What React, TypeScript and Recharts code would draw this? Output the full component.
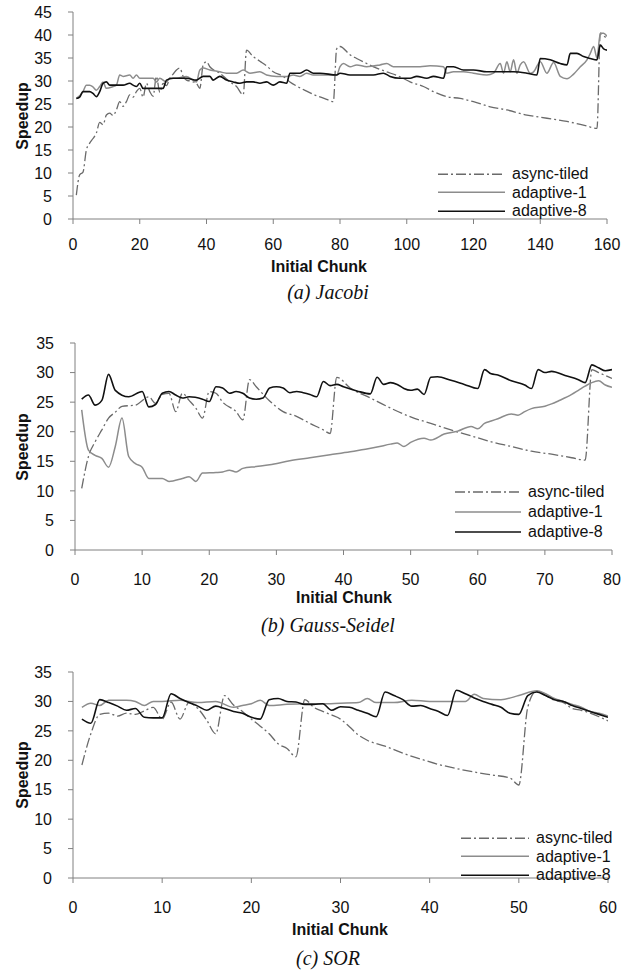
import React from "react";
import { LineChart, Line, XAxis, YAxis, Legend } from "recharts";

const SANS = '"Liberation Sans", Arial, sans-serif';
const SERIF = '"Liberation Serif", "Times New Roman", serif';
const AXIS = "#808080";

const SERIES_NAMES = ["async-tiled", "adaptive-1", "adaptive-8"];

// (a) Jacobi
const jacobiTicksX = [0, 20, 40, 60, 80, 100, 120, 140, 160];
const jacobiTicksY = [0, 5, 10, 15, 20, 25, 30, 35, 40, 45];
const jacobiAsyncX = [
  1, 2, 3, 4, 5, 6, 7, 8, 9, 10, 11, 12, 13, 14, 15, 16, 17, 18, 19, 20, 21, 22, 23, 24, 25, 26, 27,
  28, 29, 30, 31, 32, 33, 34, 35, 36, 37, 38, 39, 40, 41, 44, 47, 49, 51, 52, 54, 56, 58, 60, 63, 65,
  67, 70, 73, 76, 78, 79, 80, 83, 85, 88, 91, 94, 98, 101, 105, 108, 112, 116, 120, 125, 130, 136,
  142, 148, 154, 157, 158, 159, 160,
];
const jacobiAsyncY = [
  5.2, 9.6, 10.2, 15, 16.5, 17.5, 18.7, 21, 20.5, 22.6, 23, 22.5, 23.7, 25.5, 24.5, 25.5, 27, 26.5,
  27.7, 28.4, 26.5, 29.5, 27.7, 26.7, 31, 27.5, 29.5, 29, 30.6, 31.5, 32.4, 32.8, 31, 30.2, 30, 29.8,
  29.5, 28.4, 33.5, 34.2, 33.1, 31.7, 29.8, 28.8, 27, 36.7, 35.3, 34.3, 33.3, 32, 31, 29.8, 28.9,
  27.8, 26.8, 26, 25.5, 37, 37.5, 35.7, 34.9, 33.8, 32.8, 32, 30.9, 29.8, 28.8, 27.7, 26.6, 26.2,
  25.5, 24.4, 23.7, 22.6, 21.9, 21.2, 20.2, 19.7, 40.4, 39.8, 39.3,
];
const jacobiAd1X = [
  1, 3, 4, 5, 6, 7, 8, 9, 10, 12, 13, 14, 15, 17, 18, 19, 20, 22, 24, 25, 26, 28, 29, 31, 34, 37, 38,
  39, 41, 44, 46, 49, 51, 53, 56, 58, 61, 64, 66, 68, 70, 72, 75, 79, 80, 81, 83, 85, 88, 92, 94, 96,
  100, 104, 107, 111, 112, 114, 117, 120, 124, 126, 128, 129, 130, 131, 132, 133, 134, 135, 137, 138,
  140, 142, 144, 146, 148, 150, 152, 154, 155, 156, 157, 158, 159, 160,
];
const jacobiAd1Y = [
  26.2, 27.7, 29.1, 29.1, 28.7, 28, 28.8, 29.8, 28.4, 28.8, 29.1, 31.3, 31, 31.3, 30.6, 31.3, 30.6,
  30.6, 30.6, 29.8, 30.6, 29.8, 30.6, 30.6, 31, 29.8, 32.4, 32.8, 32.4, 32, 31.7, 31.7, 32.4, 31.7,
  32, 31.3, 31, 31, 31.3, 31, 31.7, 31.3, 31.3, 31.3, 33.1, 33.8, 33.1, 33.5, 33.1, 33.5, 33.8, 33.1,
  33.1, 33.1, 33.3, 33.1, 31.7, 32, 32, 31.7, 31.3, 31.7, 33.8, 31.7, 34.2, 32, 34.6, 31.7, 33.5,
  34.2, 31.7, 32, 34.2, 31.7, 34, 31, 30.5, 31.5, 33.1, 34.6, 36, 37.5, 35, 40.4, 40.4, 39.7,
];
const jacobiAd8X = [
  1, 2, 3, 5, 6, 7, 8, 9, 10, 11, 15, 17, 18, 19, 20, 21, 23, 27, 28, 30, 34, 37, 39, 41, 42, 44, 46,
  48, 50, 52, 54, 56, 58, 60, 62, 64, 65, 68, 70, 72, 74, 79, 80, 83, 90, 93, 95, 98, 101, 103, 106,
  108, 111, 112, 114, 117, 120, 124, 128, 132, 136, 139, 140, 143, 146, 148, 149, 151, 153, 155, 157,
  158, 159, 160,
];
const jacobiAd8Y = [
  26.2, 26.5, 27.7, 27.7, 27.3, 26.6, 27.7, 29.5, 29.8, 29.1, 29.1, 29.5, 29.1, 28.8, 29.5, 28.4,
  28.4, 28.4, 30.2, 30.6, 30.6, 30.2, 31, 31, 30.2, 31, 30.2, 29.8, 29.5, 29.8, 29.8, 29.5, 29.8,
  29.1, 29.8, 29.5, 31.7, 31.7, 32.4, 31.7, 31.7, 31.3, 31.7, 31.3, 31.3, 31.7, 31, 30.6, 30.6, 31,
  30.6, 31, 30.6, 33.1, 33.1, 32.4, 32.4, 32, 32, 32, 31.7, 31.3, 34.9, 34.6, 33.8, 33.5, 36, 36,
  35.3, 34.9, 34.6, 37.8, 37, 36.7,
];

// (b) Gauss-Seidel
const gaussTicksX = [0, 10, 20, 30, 40, 50, 60, 70, 80];
const gaussTicksY = [0, 5, 10, 15, 20, 25, 30, 35];
const gaussAsyncX = [
  1, 2, 3, 4, 5, 6, 7, 9, 11, 12, 13, 14, 15, 16, 17, 18, 19, 20, 21, 22, 24, 25, 26, 27, 29, 31, 33,
  35, 37, 38, 39, 41, 44, 47, 50, 53, 56, 59, 62, 65, 68, 71, 74, 76, 77, 78, 80,
];
const gaussAsyncY = [
  10.4, 15.8, 18.3, 20.3, 22.3, 23.3, 24.3, 24.5, 25.9, 24.8, 26.3, 26.5, 23.4, 26.5, 25.3, 24, 22.3,
  26.8, 26.5, 25, 23.4, 22, 28.8, 27.6, 25.2, 23.4, 22.6, 21.4, 20.3, 19.7, 29.2, 27.4, 25.7, 24,
  22.5, 21.4, 20.3, 19.3, 18.3, 17.5, 16.7, 16.2, 15.6, 15.2, 30.5, 30, 29,
];
const gaussAd1X = [
  1, 2, 3, 4, 5, 6, 7, 8, 9, 10, 11, 13, 14, 16, 17, 18, 19, 21, 22, 23, 24, 25, 27, 29, 32, 35, 38,
  41, 43, 45, 47, 48, 49, 50, 52, 53, 55, 57, 59, 60, 61, 62, 63, 65, 66, 67, 68, 70, 71, 72, 74, 75,
  76, 77, 78, 79, 80,
];
const gaussAd1Y = [
  23.7, 16.9, 16, 15.5, 14, 17.5, 22.3, 15.8, 14.6, 14, 12.1, 12.1, 11.6, 12.1, 12.4, 11.6, 13, 13.1,
  13.2, 13.5, 13.2, 13.8, 14.1, 14.4, 15.1, 15.6, 16.1, 16.6, 17, 17.4, 17.9, 18.1, 17.5, 18.2, 18.9,
  18.6, 19.6, 20.1, 20.9, 20.5, 21.4, 21.8, 22.2, 23, 22.8, 23.4, 23.9, 24.3, 24.7, 25.2, 26.3, 27,
  27.7, 28.3, 28.6, 27.9, 27.5,
];
const gaussAd8X = [
  1, 2, 3, 4, 5, 6, 8, 10, 11, 12, 13, 14, 15, 16, 17, 19, 20, 21, 22, 23, 24, 25, 26, 27, 28, 29, 30,
  31, 32, 33, 34, 35, 36, 37, 38, 39, 40, 42, 44, 45, 46, 47, 48, 49, 50, 51, 52, 53, 54, 56, 58, 60,
  61, 62, 63, 65, 67, 68, 69, 70, 71, 73, 75, 76, 77, 78, 79, 80,
];
const gaussAd8Y = [
  25.5, 26.2, 24.5, 25.3, 29.7, 27, 25.9, 26.8, 24.2, 24.6, 26.5, 26.8, 26.2, 25.7, 25.9, 25.5, 25.1,
  27.6, 27.4, 26.5, 26.8, 26.5, 25.7, 25.5, 25.7, 27.4, 27.6, 27.4, 26.6, 26.8, 26.6, 26.3, 25.9,
  28.5, 27.8, 28, 27.6, 26.9, 26.4, 29.2, 28, 28.3, 28, 27.3, 27, 27.2, 26.3, 29.2, 29.3, 28.7, 28,
  27.3, 30.5, 29.8, 29.6, 28.6, 27.9, 27.3, 30.5, 30, 30.2, 29.5, 28.8, 28.3, 31.3, 30.8, 30.3, 30.5,
];

// (c) SOR
const sorTicksX = [0, 10, 20, 30, 40, 50, 60];
const sorTicksY = [0, 5, 10, 15, 20, 25, 30, 35];
const sorAsyncX = [
  1, 2, 3, 4, 5, 6, 7, 8, 9, 10, 11, 12, 13, 14, 15, 16, 17, 18, 19, 20, 21, 22, 23, 24, 25, 26, 27,
  28, 29, 30, 31, 32, 33, 35, 37, 39, 41, 43, 45, 47, 49, 50, 51, 52, 53, 54, 55, 56, 57, 58, 59, 60,
];
const sorAsyncY = [
  19.2, 24.5, 27.8, 28, 27.5, 28, 27.8, 28.4, 29, 27, 29.9, 27, 29.8, 28.8, 26.8, 24.5, 31, 29.4,
  28.3, 27, 25.8, 24.5, 22.8, 22, 20.6, 30.3, 29, 28.3, 27.7, 27, 25.7, 24.3, 23.4, 22.4, 21.2, 20.2,
  19.3, 18.6, 18, 17.5, 17, 15.8, 29, 31.8, 31, 30.2, 29.8, 28.8, 28.5, 28, 27.4, 26.7,
];
const sorAd1X = [
  1, 2, 3, 4, 6, 7, 8, 9, 10, 12, 14, 16, 18, 19, 20, 21, 22, 24, 26, 28, 30, 32, 33, 34, 36, 38, 40,
  42, 44, 45, 46, 48, 50, 52, 53, 54, 55, 56, 57, 58, 59, 60,
];
const sorAd1Y = [
  29, 29.7, 29.3, 30.2, 30.2, 30, 29.3, 30, 30, 30.2, 29.8, 30, 29, 29.3, 29.6, 30.2, 29.3, 29.5,
  29.6, 29.6, 29.7, 29.8, 30.5, 29.8, 29.8, 30.2, 30, 30, 30, 31.2, 30.5, 30.3, 31, 31.8, 31.3, 30.5,
  30, 29.5, 29, 28.3, 28, 27.5,
];
const sorAd8X = [
  1, 2, 3, 4, 5, 6, 7, 8, 9, 10, 11, 12, 13, 14, 15, 16, 17, 18, 19, 20, 21, 22, 23, 24, 25, 26, 27,
  28, 29, 30, 31, 32, 33, 34, 35, 36, 37, 38, 39, 40, 41, 42, 43, 44, 45, 46, 47, 48, 49, 50, 51, 52,
  53, 54, 55, 56, 57, 58, 59, 60,
];
const sorAd8Y = [
  27, 26.3, 30.3, 29.8, 29.2, 28.5, 28.8, 27.3, 27.2, 27.2, 31.3, 30.5, 29.8, 29.2, 28.5, 29.2, 28.8,
  28.3, 28, 27.3, 27, 30.3, 30.5, 30, 29.9, 29.5, 29.5, 29.6, 28.5, 29.1, 29, 28.5, 28, 27.4, 31.6,
  31, 30.3, 29.2, 29.3, 28.8, 28.3, 27.6, 31.9, 31.3, 30.6, 30, 29.5, 29, 28, 27.8, 31, 31.6, 31,
  30.3, 30, 29.3, 28.8, 28.3, 27.8, 27.3,
];

const STYLES: Record<string, { stroke: string; width: number; dash?: string }> = {
  "async-tiled": { stroke: "#6a6a6a", width: 1.3, dash: "10 3 2 3" },
  "adaptive-1": { stroke: "#8c8c8c", width: 1.5 },
  "adaptive-8": { stroke: "#111111", width: 1.6 },
};

function toPoints(xs: number[], ys: number[]) {
  const n = Math.min(xs.length, ys.length);
  return xs.slice(0, n).map((chunk, i) => ({ chunk, speedup: ys[i] }));
}

type PanelProps = {
  plotTop: number;
  plotBottom: number;
  plotLeft: number;
  plotRight: number;
  xTicks: number[];
  yTicks: number[];
  data: { chunk: number; speedup: number }[][];
  tickGap: number;
  legendX: number;
  legendY: number;
  legendRow: number;
  legendLine: number;
};

function LegendBox({ row, line }: { row: number; line: number }) {
  return (
    <div style={{ fontFamily: SANS, fontSize: 16, color: "#111" }}>
      {SERIES_NAMES.map((name) => {
        const st = STYLES[name];
        return (
          <div key={name} style={{ display: "flex", alignItems: "center", height: row }}>
            <svg width={line} height={row} style={{ display: "block" }}>
              <line
                x1={0}
                x2={line}
                y1={row / 2}
                y2={row / 2}
                stroke={st.stroke}
                strokeWidth={st.width}
                strokeDasharray={st.dash}
              />
            </svg>
            <span style={{ marginLeft: 7, whiteSpace: "nowrap" }}>{name}</span>
          </div>
        );
      })}
    </div>
  );
}

function Panel(p: PanelProps) {
  const top = p.plotTop - 10;
  const plotH = p.plotBottom - p.plotTop;
  const height = 10 + plotH + 60 + 10;
  const tick = { fill: "#111", fontSize: 16, fontFamily: SANS };
  return (
    <div style={{ position: "absolute", left: 0, top, width: 621, height }}>
      <LineChart
        width={621}
        height={height}
        margin={{ top: 10, right: 621 - p.plotRight, bottom: 10, left: p.plotLeft - 60 }}
      >
        <XAxis
          type="number"
          dataKey="chunk"
          domain={[0, p.xTicks[p.xTicks.length - 1]]}
          ticks={p.xTicks}
          interval={0}
          allowDataOverflow
          height={60}
          stroke={AXIS}
          tickSize={5}
          tickMargin={p.tickGap}
          tick={tick}
        />
        <YAxis
          type="number"
          domain={[0, p.yTicks[p.yTicks.length - 1]]}
          ticks={p.yTicks}
          interval={0}
          allowDataOverflow
          width={60}
          stroke={AXIS}
          tickSize={5}
          tickMargin={16}
          tick={tick}
        />
        {SERIES_NAMES.map((name, i) => (
          <Line
            key={name}
            name={name}
            data={p.data[i]}
            dataKey="speedup"
            type="monotone"
            stroke={STYLES[name].stroke}
            strokeWidth={STYLES[name].width}
            strokeDasharray={STYLES[name].dash}
            dot={false}
            activeDot={false}
            isAnimationActive={false}
          />
        ))}
        <Legend
          layout="vertical"
          align="center"
          verticalAlign="middle"
          wrapperStyle={{
            left: p.legendX,
            top: p.legendY - p.legendRow / 2 - top,
            width: "auto",
            height: "auto",
          }}
          content={() => <LegendBox row={p.legendRow} line={p.legendLine} />}
        />
      </LineChart>
    </div>
  );
}

function AxisTitles({ plotTop, plotBottom, titleX, titleY }: { plotTop: number; plotBottom: number; titleX: number; titleY: number }) {
  const bold = { fontFamily: SANS, fontSize: 16, fontWeight: 700, color: "#111", whiteSpace: "nowrap" as const };
  return (
    <>
      <div
        style={{
          ...bold,
          position: "absolute",
          left: 23,
          top: (plotTop + plotBottom) / 2,
          transform: "translate(-50%, -50%) rotate(-90deg)",
        }}
      >
        Speedup
      </div>
      <div style={{ ...bold, position: "absolute", left: titleX, top: titleY, transform: "translate(-50%, -50%)" }}>
        Initial Chunk
      </div>
    </>
  );
}

function Caption({ y, text }: { y: number; text: string }) {
  return (
    <div
      style={{
        position: "absolute",
        left: 328,
        top: y,
        transform: "translate(-50%, -50%)",
        fontFamily: SERIF,
        fontStyle: "italic",
        fontSize: 20,
        color: "#111",
        whiteSpace: "nowrap",
      }}
    >
      {text}
    </div>
  );
}

export default function App() {
  return (
    <div style={{ position: "relative", width: 621, height: 970, background: "#fff", overflow: "hidden" }}>
      <style>{"body{margin:0;background:#fff}"}</style>

      <Panel
        plotTop={12}
        plotBottom={219}
        plotLeft={73}
        plotRight={607}
        xTicks={jacobiTicksX}
        yTicks={jacobiTicksY}
        data={[
          toPoints(jacobiAsyncX, jacobiAsyncY),
          toPoints(jacobiAd1X, jacobiAd1Y),
          toPoints(jacobiAd8X, jacobiAd8Y),
        ]}
        tickGap={15}
        legendX={438}
        legendY={174}
        legendRow={18.5}
        legendLine={67}
      />
      <AxisTitles plotTop={12} plotBottom={219} titleX={319} titleY={267} />
      <Caption y={292} text="(a) Jacobi" />

      <Panel
        plotTop={343}
        plotBottom={550}
        plotLeft={75}
        plotRight={612}
        xTicks={gaussTicksX}
        yTicks={gaussTicksY}
        data={[
          toPoints(gaussAsyncX, gaussAsyncY),
          toPoints(gaussAd1X, gaussAd1Y),
          toPoints(gaussAd8X, gaussAd8Y),
        ]}
        tickGap={19}
        legendX={455}
        legendY={492}
        legendRow={20}
        legendLine={66}
      />
      <AxisTitles plotTop={343} plotBottom={550} titleX={344} titleY={598} />
      <Caption y={625} text="(b) Gauss-Seidel" />

      <Panel
        plotTop={672}
        plotBottom={878}
        plotLeft={73}
        plotRight={608}
        xTicks={sorTicksX}
        yTicks={sorTicksY}
        data={[
          toPoints(sorAsyncX, sorAsyncY),
          toPoints(sorAd1X, sorAd1Y),
          toPoints(sorAd8X, sorAd8Y),
        ]}
        tickGap={19}
        legendX={461}
        legendY={838}
        legendRow={18.5}
        legendLine={68}
      />
      <AxisTitles plotTop={672} plotBottom={878} titleX={340} titleY={930} />
      <Caption y={958} text="(c) SOR" />
    </div>
  );
}
